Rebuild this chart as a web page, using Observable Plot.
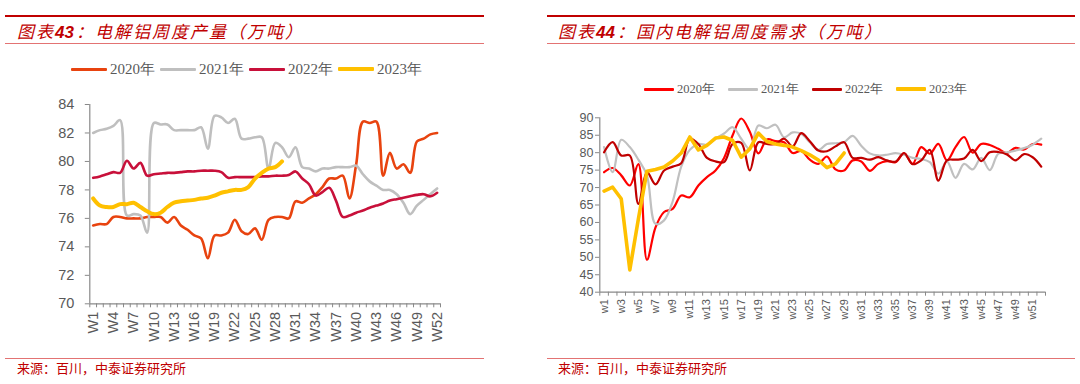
<!DOCTYPE html>
<html><head><meta charset="utf-8">
<script src="https://cdn.jsdelivr.net/npm/d3@7"></script>
<script src="https://cdn.jsdelivr.net/npm/@observablehq/plot@0.6"></script>
<style>
body{margin:0;width:1080px;height:384px;position:relative;overflow:hidden;background:#fff;font-family:"Liberation Sans",Arial,sans-serif}
.abs{position:absolute}
.title{position:absolute;font-family:"Noto Sans CJK SC";font-style:italic;font-size:17px;line-height:17px;letter-spacing:2px;color:#C00000;white-space:nowrap}
.title b{font-family:"Liberation Sans",Arial;font-weight:bold;font-style:italic;letter-spacing:0;margin-right:2px}
.src{position:absolute;font-family:"Noto Sans CJK SC";font-size:13px;line-height:13px;color:#C00000;white-space:nowrap}
.legend{position:absolute;display:flex;align-items:center;white-space:nowrap;color:#595959;font-family:"Liberation Serif","Times New Roman",serif}
.legend .it{display:flex;align-items:center}
.legend .sw{display:inline-block}
</style></head><body>
<script>
// ---------- data ----------
const weeks = d3.range(1, 53);
const years = ["2020年", "2021年", "2022年", "2023年"];

// 图表43 电解铝周度产量（万吨）
const prod2020 = [75.5,75.6,75.6,76.1,76.1,76.0,76.0,76.0,76.1,76.1,76.1,75.7,76.1,75.5,75.2,74.8,74.6,73.2,74.8,74.8,75.0,75.9,75.1,74.9,75.3,74.5,75.9,76.1,76.1,76.0,77.2,77.1,77.4,77.7,78.2,78.8,78.8,79.0,77.4,79.8,82.8,82.7,82.8,79.0,80.6,79.5,79.8,79.2,81.4,81.6,81.9,82.0];
const prod2021 = [82.0,82.2,82.3,82.5,82.9,76.2,76.3,76.2,75.0,82.7,82.6,82.6,82.2,82.2,82.2,82.2,82.4,80.9,83.2,83.1,82.7,83.0,81.6,81.6,81.7,81.7,79.5,81.3,81.0,80.3,81.0,79.6,79.5,79.3,79.5,79.5,79.6,79.6,79.6,79.7,79.1,78.6,78.3,78.0,78.0,77.7,77.1,76.3,76.9,77.3,77.7,78.1];
const prod2022 = [78.85,78.95,79.1,79.25,79.2,80.05,79.5,79.9,79.0,79.1,79.15,79.2,79.2,79.25,79.3,79.3,79.35,79.35,79.35,79.25,78.85,78.9,78.9,78.9,78.9,78.95,78.95,79.0,79.0,79.05,79.3,78.8,78.4,77.6,77.85,78.15,77.25,76.1,76.2,76.4,76.55,76.75,76.9,77.05,77.25,77.35,77.45,77.55,77.65,77.7,77.55,77.8];
const prod2023 = [77.4,76.9,76.8,76.8,77.0,77.0,77.1,76.8,76.5,76.3,76.4,76.8,77.1,77.2,77.25,77.3,77.4,77.45,77.6,77.8,77.9,78.0,78.0,78.2,78.8,79.2,79.5,79.6,80.0];
const prodTicks = [70,72,74,76,78,80,82,84];
const prodLabelWeeks = [1,4,7,10,13,16,19,22,25,28,31,34,37,40,43,46,49,52];

// 图表44 国内电解铝周度需求（万吨）
const dem2020 = [74.4,75.6,73.5,70.6,76.7,49.3,58.6,63.0,63.9,67.7,67.2,70.6,73.0,74.9,78.5,85.0,89.8,86.0,79.8,83.8,83.3,83.0,79.9,80.5,78.0,76.8,78.9,75.2,74.9,77.8,77.5,74.8,76.8,77.6,77.3,79.8,76.8,81.6,79.7,82.5,77.8,81.6,84.5,80.0,82.5,82.2,81.1,79.9,81.4,80.9,82.5,82.3];
const dem2021 = [81.6,74.4,83.7,81.6,78.0,73.5,59.6,60.6,66.0,76.0,80.8,82.5,82.3,84.0,85.5,87.3,84.0,81.0,87.8,87.0,88.0,84.4,85.8,85.4,83.0,80.8,82.5,82.7,83.0,84.8,82.0,79.8,79.2,79.4,79.9,79.4,78.5,78.2,77.3,74.0,77.5,72.8,76.8,75.2,78.5,75.0,79.7,80.1,80.6,81.3,82.3,84.0];
const dem2022 = [80.1,83.0,79.2,79.2,65.3,74.4,70.9,74.9,76.0,77.0,84.0,82.5,78.5,77.5,77.3,82.5,82.8,74.9,83.0,82.5,82.5,84.0,81.8,85.6,83.3,80.6,80.4,81.8,83.0,78.5,78.5,78.0,78.7,77.8,77.4,79.9,76.7,77.8,80.8,72.0,77.8,78.0,78.3,80.8,77.6,80.1,80.2,79.5,77.8,79.6,78.7,76.0];
const dem2023 = [69.0,70.1,66.8,46.4,61.0,74.7,75.2,75.9,77.6,79.9,84.5,80.8,82.1,84.2,84.5,83.5,78.7,81.1,85.6,83.2,82.5,82.1,81.6,80.6,79.4,77.9,75.7,76.8,79.9];
const demTicks = [40,45,50,55,60,65,70,75,80,85,90];
const demLabelWeeks = d3.range(1, 53, 2);

// ---------- helpers ----------
const rows = (vals) => vals.map((v, i) => ({week: weeks[i], value: v}));
const boundaries = d3.range(0, 53).map(d => d + 0.5);

function el(tag, cls, style, html) {
  const e = document.createElement(tag);
  if (cls) e.className = cls;
  if (style) e.style.cssText = style;
  if (html != null) e.innerHTML = html;
  document.body.appendChild(e);
  return e;
}

function chart(cfg) {
  const marks = [
    Plot.ruleY([cfg.ydomain[0]], {stroke: "#898989", strokeWidth: 1.2}),
    Plot.ruleX([0.5], {stroke: "#898989", strokeWidth: 1.2}),
    Plot.axisY(cfg.yticks, {tickSize: cfg.yTick, tickPadding: cfg.yPad, fontSize: cfg.yFont, stroke: "#898989", fill: "#595959", label: null, fontFamily: cfg.yFamily}),
    Plot.axisX(boundaries, {tickSize: 4, tickFormat: () => "", stroke: "#898989", label: null}),
    Plot.axisX(cfg.labelWeeks, {tickSize: 0, tickPadding: cfg.xPad, tickRotate: -90, tickFormat: d => cfg.prefix + d, fontSize: cfg.xFont, fill: "#595959", label: null, fontFamily: cfg.xFamily})
  ];
  cfg.series.forEach((s) => {
    marks.push(Plot.lineY(rows(s.values), {x: "week", y: "value", stroke: s.color, strokeWidth: s.width, curve: s.curve || "catmull-rom", strokeLinejoin: "round", strokeLinecap: "round"}));
  });
  const svg = Plot.plot({
    width: cfg.width, height: cfg.height,
    marginLeft: cfg.ml, marginRight: cfg.mr, marginTop: cfg.mt, marginBottom: cfg.mb,
    x: {type: "linear", domain: [0.5, 52.5], label: null},
    y: {domain: cfg.ydomain, label: null},
    style: {fontFamily: "Liberation Sans, Arial, sans-serif", color: "#595959", background: "transparent", overflow: "visible"},
    marks
  });
  const wrap = el("div", "abs", `left:${cfg.left}px;top:${cfg.top}px;`);
  wrap.appendChild(svg);
}

function legend(cfg) {
  const lg = el("div", "legend", `left:${cfg.left}px;top:${cfg.top}px;height:16px;font-size:${cfg.font}px;gap:${cfg.gap}px;`);
  cfg.series.forEach((s, i) => {
    const it = document.createElement("span");
    it.className = "it";
    it.innerHTML = `<span class="sw" style="width:${cfg.sw}px;height:${s.lw}px;background:${s.color};margin-right:3px;border-radius:1px"></span><span>${years[i]}</span>`;
    lg.appendChild(it);
  });
}

// ---------- frames / titles ----------
el("div", "abs", "left:5px;top:15px;width:479px;height:2px;background:#C00000");
el("div", "abs", "left:5px;top:43px;width:479px;height:1px;background:#E37373");
el("div", "title", "left:17px;top:22px;", "图表<b>43</b>：电解铝周度产量（万吨）");
el("div", "abs", "left:5px;top:358px;width:479px;height:1px;background:#E37373");
el("div", "src", "left:17px;top:361px;", "来源：百川，中泰证券研究所");

el("div", "abs", "left:547px;top:15px;width:528px;height:2px;background:#C00000");
el("div", "abs", "left:547px;top:43px;width:528px;height:1px;background:#E37373");
el("div", "title", "left:558px;top:22px;", "图表<b>44</b>：国内电解铝周度需求（万吨）");
el("div", "abs", "left:547px;top:358px;width:528px;height:1px;background:#E37373");
el("div", "src", "left:558px;top:361px;", "来源：百川，中泰证券研究所");

// ---------- left chart ----------
const leftSeries = [
  {values: prod2020, color: "#E8430F", width: 2.6, lw: 3},
  {values: prod2021, color: "#BFBFBF", width: 2.6, lw: 3},
  {values: prod2022, color: "#C8103A", width: 2.6, lw: 3},
  {values: prod2023, color: "#FFC000", width: 4, lw: 4}
];
legend({left: 71, top: 61, font: 15, gap: 5, sw: 36, series: leftSeries});
chart({left: 0, top: 90, width: 460, height: 260, ml: 89.3, mr: 20, mt: 14, mb: 46.7,
  ydomain: [70, 84], yticks: prodTicks, yTick: 4.5, yPad: 11, yFont: 14.5, yFamily: "Liberation Sans, Arial",
  labelWeeks: prodLabelWeeks, prefix: "W", xPad: 8, xFont: 14.5, xFamily: "Liberation Sans, Arial",
  series: leftSeries});

// ---------- right chart ----------
const rightSeries = [
  {values: dem2020, color: "#FF0000", width: 2.2, lw: 3},
  {values: dem2021, color: "#C0C0C0", width: 2.2, lw: 3},
  {values: dem2022, color: "#C00000", width: 2.2, lw: 3},
  {values: dem2023, color: "#FFC000", width: 3.6, lw: 4, curve: "linear"}
];
legend({left: 644, top: 81, font: 12.5, gap: 13, sw: 30, series: rightSeries});
chart({left: 560, top: 100, width: 500, height: 240, ml: 39.3, mr: 15, mt: 17.3, mb: 48.3,
  ydomain: [40, 90], yticks: demTicks, yTick: 4.3, yPad: 2, yFont: 12.5, yFamily: "Liberation Sans, Arial",
  labelWeeks: demLabelWeeks, prefix: "w", xPad: 7, xFont: 11, xFamily: "Liberation Sans, Arial",
  series: rightSeries});
</script>
</body></html>
